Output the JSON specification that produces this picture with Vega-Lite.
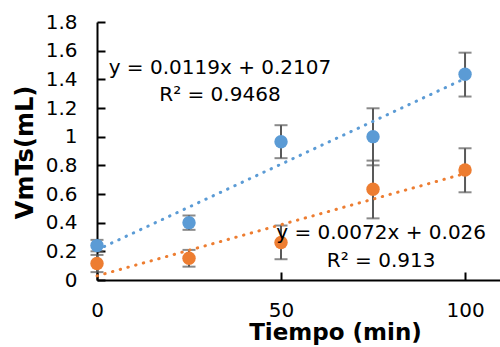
{
  "$schema": "https://vega.github.io/schema/vega-lite/v6.json",
  "width": 403,
  "height": 258,
  "autosize": {"type": "none"},
  "padding": {"left": 97, "top": 22, "right": 0, "bottom": 67},
  "background": "white",
  "config": {"view": {"stroke": null}, "font": "DejaVu Sans"},
  "datasets": {
    "pts": [
      {"series": "A", "x": 0, "y": 0.24, "lo": 0.2, "hi": 0.28},
      {"series": "A", "x": 25, "y": 0.4, "lo": 0.35, "hi": 0.45},
      {"series": "A", "x": 50, "y": 0.965, "lo": 0.85, "hi": 1.08},
      {"series": "A", "x": 75, "y": 1.0, "lo": 0.8, "hi": 1.198},
      {"series": "A", "x": 100, "y": 1.435, "lo": 1.28, "hi": 1.586},
      {"series": "B", "x": 0, "y": 0.115, "lo": 0.055, "hi": 0.175},
      {"series": "B", "x": 25, "y": 0.152, "lo": 0.093, "hi": 0.21},
      {"series": "B", "x": 50, "y": 0.262, "lo": 0.145, "hi": 0.38},
      {"series": "B", "x": 75, "y": 0.633, "lo": 0.43, "hi": 0.833},
      {"series": "B", "x": 100, "y": 0.767, "lo": 0.612, "hi": 0.919}
    ],
    "notes": [
      {"series": "A", "x": 33.4, "y": 1.437, "label": "y = 0.0119x + 0.2107"},
      {"series": "A", "x": 33.4, "y": 1.249, "label": "R² = 0.9468"},
      {"series": "B", "x": 77.2, "y": 0.284, "label": "y = 0.0072x + 0.026"},
      {"series": "B", "x": 77.2, "y": 0.093, "label": "R² = 0.913"}
    ]
  },
  "layer": [
    {
      "mark": {"type": "rule", "color": "black", "strokeWidth": 2},
      "encoding": {"y": {"datum": 1.8, "type": "quantitative", "scale": {"domain": [0, 1.8]}}}
    },
    {
      "data": {"name": "pts"},
      "mark": {"type": "rule", "color": "#595959", "strokeWidth": 2},
      "encoding": {
        "x": {"field": "x", "type": "quantitative"},
        "y": {"field": "lo", "type": "quantitative"},
        "y2": {"field": "hi"}
      }
    },
    {
      "data": {"name": "pts"},
      "mark": {"type": "tick", "orient": "horizontal", "color": "#595959", "size": 13, "thickness": 2},
      "encoding": {
        "x": {"field": "x", "type": "quantitative"},
        "y": {"field": "lo", "type": "quantitative"}
      }
    },
    {
      "data": {"name": "pts"},
      "mark": {"type": "tick", "orient": "horizontal", "color": "#595959", "size": 13, "thickness": 2},
      "encoding": {
        "x": {"field": "x", "type": "quantitative"},
        "y": {"field": "hi", "type": "quantitative"}
      }
    },
    {
      "data": {"name": "pts"},
      "mark": {"type": "point", "filled": true, "size": 180, "opacity": 1},
      "encoding": {
        "x": {"field": "x", "type": "quantitative"},
        "y": {"field": "y", "type": "quantitative"},
        "color": {"field": "series", "type": "nominal", "scale": {"domain": ["A", "B"], "range": ["#5B9BD5", "#ED7D31"]}, "legend": null}
      }
    },
    {
      "data": {"name": "pts"},
      "transform": [{"regression": "y", "on": "x", "groupby": ["series"], "extent": [0, 100]}],
      "mark": {"type": "line", "strokeWidth": 3, "strokeDash": [0.5, 7.5], "strokeCap": "round"},
      "encoding": {
        "x": {"field": "x", "type": "quantitative"},
        "y": {"field": "y", "type": "quantitative"},
        "color": {"field": "series", "type": "nominal", "legend": null}
      }
    },
    {
      "data": {"name": "notes"},
      "mark": {"type": "text", "fontSize": 20, "font": "DejaVu Sans", "color": "black", "align": "center", "baseline": "alphabetic"},
      "encoding": {
        "x": {"field": "x", "type": "quantitative"},
        "y": {"field": "y", "type": "quantitative"},
        "text": {"field": "label"}
      }
    }
  ],
  "encoding": {
    "x": {
      "type": "quantitative",
      "scale": {"domain": [0, 109.5], "nice": false},
      "axis": {
        "title": "Tiempo (min)",
        "values": [0, 50, 100],
        "grid": false,
        "labelFlush": false,
        "domainColor": "black", "domainWidth": 2,
        "tickColor": "black", "tickWidth": 2, "tickSize": -8,
        "labelFont": "DejaVu Sans", "labelFontSize": 20, "labelColor": "black",
        "labelPadding": 28,
        "titleFont": "DejaVu Sans", "titleFontSize": 23, "titleFontWeight": "bold", "titleColor": "black",
        "titleX": 238, "titleY": 59, "titleBaseline": "alphabetic", "titleAlign": "center"
      }
    },
    "y": {
      "type": "quantitative",
      "axis": {
        "title": "VmTs(mL)",
        "values": [0, 0.2, 0.4, 0.6, 0.8, 1, 1.2, 1.4, 1.6, 1.8],
        "labelExpr": "'' + datum.value",
        "grid": false,
        "domainColor": "black", "domainWidth": 2,
        "tickColor": "black", "tickWidth": 2, "tickSize": -8,
        "labelFont": "DejaVu Sans", "labelFontSize": 20, "labelColor": "black",
        "labelPadding": 28,
        "titleFont": "DejaVu Sans", "titleFontSize": 24, "titleFontWeight": "bold", "titleColor": "black",
        "titleX": -65, "titleY": 130, "titleAngle": -90, "titleBaseline": "alphabetic", "titleAlign": "center"
      }
    }
  }
}
